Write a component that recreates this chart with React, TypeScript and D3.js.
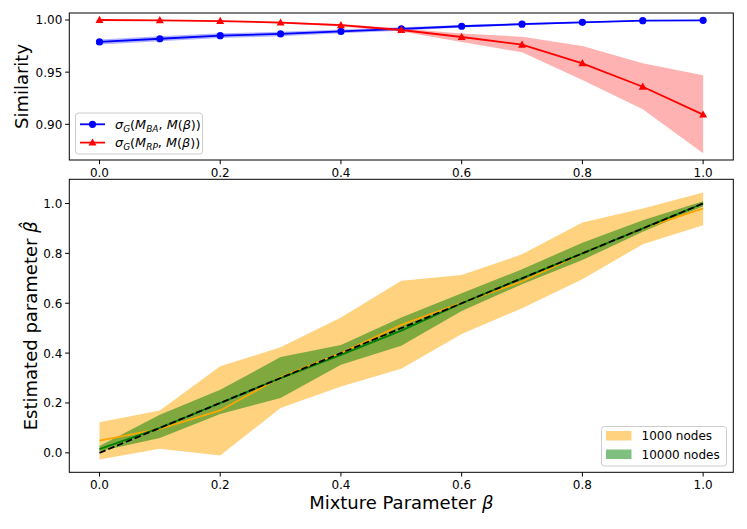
import React from "react";
import * as d3 from "d3";

const betas = [0, 0.1, 0.2, 0.3, 0.4, 0.5, 0.6, 0.7, 0.8, 0.9, 1.0];
const xTicks = [0, 0.2, 0.4, 0.6, 0.8, 1.0];

const simBA = [0.979, 0.982, 0.985, 0.9866, 0.989, 0.9914, 0.994, 0.996, 0.9978, 0.9993, 0.9997];
const simBAHi = [0.9814, 0.9843, 0.9872, 0.9887, 0.9908, 0.993, 0.9953, 0.997, 0.9985, 0.9997, 1.0];
const simBALo = [0.9766, 0.9797, 0.9828, 0.9845, 0.9872, 0.9898, 0.9927, 0.995, 0.9971, 0.9989, 0.9994];

const simRP = [1.0, 0.9997, 0.999, 0.9975, 0.995, 0.9904, 0.9837, 0.9763, 0.9585, 0.936, 0.9093];
const simRPHi = [1.0002, 1.0, 0.9995, 0.9983, 0.9962, 0.9918, 0.987, 0.984, 0.975, 0.9585, 0.947];
const simRPLo = [0.9998, 0.9994, 0.9985, 0.9967, 0.9938, 0.989, 0.979, 0.969, 0.9425, 0.9145, 0.8723];
const topYTicks = [0.9, 0.95, 1.0];

const est1000 = [0.049, 0.096, 0.17, 0.303, 0.4, 0.513, 0.602, 0.687, 0.8, 0.9, 0.98];
const est1000Hi = [0.123, 0.17, 0.347, 0.423, 0.543, 0.69, 0.713, 0.796, 0.924, 0.98, 1.044];
const est1000Lo = [-0.027, 0.016, -0.011, 0.18, 0.266, 0.337, 0.477, 0.58, 0.696, 0.837, 0.913];
const est10000 = [0.015, 0.1, 0.2, 0.3, 0.393, 0.49, 0.6, 0.7, 0.8, 0.9, 1.0];
const est10000Hi = [0.027, 0.153, 0.253, 0.384, 0.433, 0.543, 0.64, 0.736, 0.843, 0.933, 1.009];
const est10000Lo = [0.006, 0.06, 0.156, 0.22, 0.353, 0.429, 0.569, 0.676, 0.773, 0.887, 0.989];
const botYTicks = [0, 0.2, 0.4, 0.6, 0.8, 1.0];

const FONT = "DejaVu Sans";
const L = 69.3, R = 733.3;
const T1 = 13, B1 = 160;
const T2 = 179.3, B2 = 472.3;

export default function App() {
  const x = d3.scaleLinear().domain([-0.05, 1.05]).range([L, R]);
  const y1 = d3.scaleLinear().domain([0.8658, 1.0067]).range([B1, T1]);
  const y2 = d3.scaleLinear().domain([-0.078, 1.097]).range([B2, T2]);

  const area = (ys: d3.ScaleLinear<number, number>, lo: number[], hi: number[]) =>
    d3.area<number>().x((d, i) => x(betas[i])).y0((d, i) => ys(lo[i])).y1((d, i) => ys(hi[i]))(betas) || "";
  const line = (ys: d3.ScaleLinear<number, number>, v: number[]) =>
    d3.line<number>().x((d, i) => x(betas[i])).y((d, i) => ys(v[i]))(betas) || "";

  const tri = (cx: number, cy: number, s = 4.2) =>
    `M${cx},${cy - s}L${cx + s * 0.95},${cy + s * 0.7}L${cx - s * 0.95},${cy + s * 0.7}Z`;

  const xAxis = (yb: number, key: string) => (
    <g key={key}>
      {xTicks.map((t) => (
        <g key={t}>
          <line x1={x(t)} x2={x(t)} y1={yb} y2={yb + 4.2} stroke="#000" strokeWidth={1} />
          <text x={x(t)} y={yb + 17} textAnchor="middle" fontSize={12} fontFamily={FONT}>
            {t.toFixed(1)}
          </text>
        </g>
      ))}
    </g>
  );

  const yAxis = (ys: d3.ScaleLinear<number, number>, ticks: number[], digits: number) => (
    <g>
      {ticks.map((t) => (
        <g key={t}>
          <line x1={L - 4.2} x2={L} y1={ys(t)} y2={ys(t)} stroke="#000" strokeWidth={1} />
          <text x={L - 7} y={ys(t) + 4.4} textAnchor="end" fontSize={12} fontFamily={FONT}>
            {t.toFixed(digits)}
          </text>
        </g>
      ))}
    </g>
  );

  const mathLabel = (sub: string, xx: number, yy: number) => (
    <text x={xx} y={yy} fontSize={12.8} fontFamily={FONT}>
      <tspan fontStyle="italic">σ</tspan>
      <tspan fontStyle="italic" fontSize={9} dy={3}>G</tspan>
      <tspan dy={-3}>(</tspan>
      <tspan fontStyle="italic">M</tspan>
      <tspan fontStyle="italic" fontSize={9} dy={3}>{sub}</tspan>
      <tspan dy={-3}>, </tspan>
      <tspan fontStyle="italic">M</tspan>
      <tspan>(</tspan>
      <tspan fontStyle="italic">β</tspan>
      <tspan>))</tspan>
    </text>
  );

  return (
    <svg
      width={747}
      height={529}
      style={{ position: "fixed", left: 0, top: 0, background: "#fff" }}
      fontFamily={FONT}
    >
      <rect width={747} height={529} fill="#fff" />
      <defs>
        <clipPath id="c1">
          <rect x={L} y={T1} width={R - L} height={B1 - T1} />
        </clipPath>
        <clipPath id="c2">
          <rect x={L} y={T2} width={R - L} height={B2 - T2} />
        </clipPath>
      </defs>
      {/* Top panel */}
      <g clipPath="url(#c1)">
        <path d={area(y1, simBALo, simBAHi)} fill="blue" fillOpacity={0.3} />
        <path d={area(y1, simRPLo, simRPHi)} fill="red" fillOpacity={0.3} />
        <path d={line(y1, simBA)} fill="none" stroke="blue" strokeWidth={1.8} />
        {betas.map((b, i) => (
          <circle key={"b" + i} cx={x(b)} cy={y1(simBA[i])} r={3.6} fill="blue" />
        ))}
        <path d={line(y1, simRP)} fill="none" stroke="red" strokeWidth={1.8} />
        {betas.map((b, i) => (
          <path key={"r" + i} d={tri(x(b), y1(simRP[i]))} fill="red" />
        ))}
      </g>
      <rect x={L} y={T1} width={R - L} height={B1 - T1} fill="none" stroke="#000" strokeWidth={1} />
      {xAxis(B1, "x1")}
      {yAxis(y1, topYTicks, 2)}
      <text
        transform={`translate(28,${(T1 + B1) / 2}) rotate(-90)`}
        textAnchor="middle"
        fontSize={18}
        fontFamily={FONT}
      >
        Similarity
      </text>
      {/* top legend */}
      <g>
        <rect x={75.5} y={113} width={127} height={41} rx={3} fill="#fff" fillOpacity={0.8} stroke="#ccc" strokeWidth={1} />
        <line x1={80} x2={105} y1={124.3} y2={124.3} stroke="blue" strokeWidth={1.8} />
        <circle cx={92.5} cy={124.3} r={3.6} fill="blue" />
        {mathLabel("BA", 115, 128.8)}
        <line x1={80} x2={105} y1={142.6} y2={142.6} stroke="red" strokeWidth={1.8} />
        <path d={tri(92.5, 142.6)} fill="red" />
        {mathLabel("RP", 115, 147.1)}
      </g>

      {/* Bottom panel */}
      <g clipPath="url(#c2)">
        <path d={area(y2, est1000Lo, est1000Hi)} fill="orange" fillOpacity={0.5} />
        <path d={area(y2, est10000Lo, est10000Hi)} fill="green" fillOpacity={0.5} />
        <path d={line(y2, est1000)} fill="none" stroke="orange" strokeWidth={1.8} />
        <path d={line(y2, est10000)} fill="none" stroke="green" strokeWidth={1.8} />
        <path d={line(y2, betas)} fill="none" stroke="#000" strokeWidth={1.8} strokeDasharray="6.6,2.9" />
      </g>
      <rect x={L} y={T2} width={R - L} height={B2 - T2} fill="none" stroke="#000" strokeWidth={1} />
      {xAxis(B2, "x2")}
      {yAxis(y2, botYTicks, 1)}
      <text
        transform={`translate(36.5,${(T2 + B2) / 2}) rotate(-90)`}
        textAnchor="middle"
        fontSize={18}
        fontFamily={FONT}
      >
        Estimated parameter <tspan fontStyle="italic">β̂</tspan>
      </text>
      <text x={(L + R) / 2} y={508.5} textAnchor="middle" fontSize={18} fontFamily={FONT}>
        Mixture Parameter <tspan fontStyle="italic">β</tspan>
      </text>
      {/* bottom legend */}
      <g>
        <rect x={601.5} y={426.5} width={125} height={39.5} rx={3} fill="#fff" fillOpacity={0.8} stroke="#ccc" strokeWidth={1} />
        <rect x={606} y={431} width={25.5} height={9.5} fill="orange" fillOpacity={0.5} />
        <text x={641.5} y={440.3} fontSize={12} fontFamily={FONT}>1000 nodes</text>
        <rect x={606} y={449.5} width={25.5} height={9.5} fill="green" fillOpacity={0.5} />
        <text x={641.5} y={458.6} fontSize={12} fontFamily={FONT}>10000 nodes</text>
      </g>
    </svg>
  );
}
